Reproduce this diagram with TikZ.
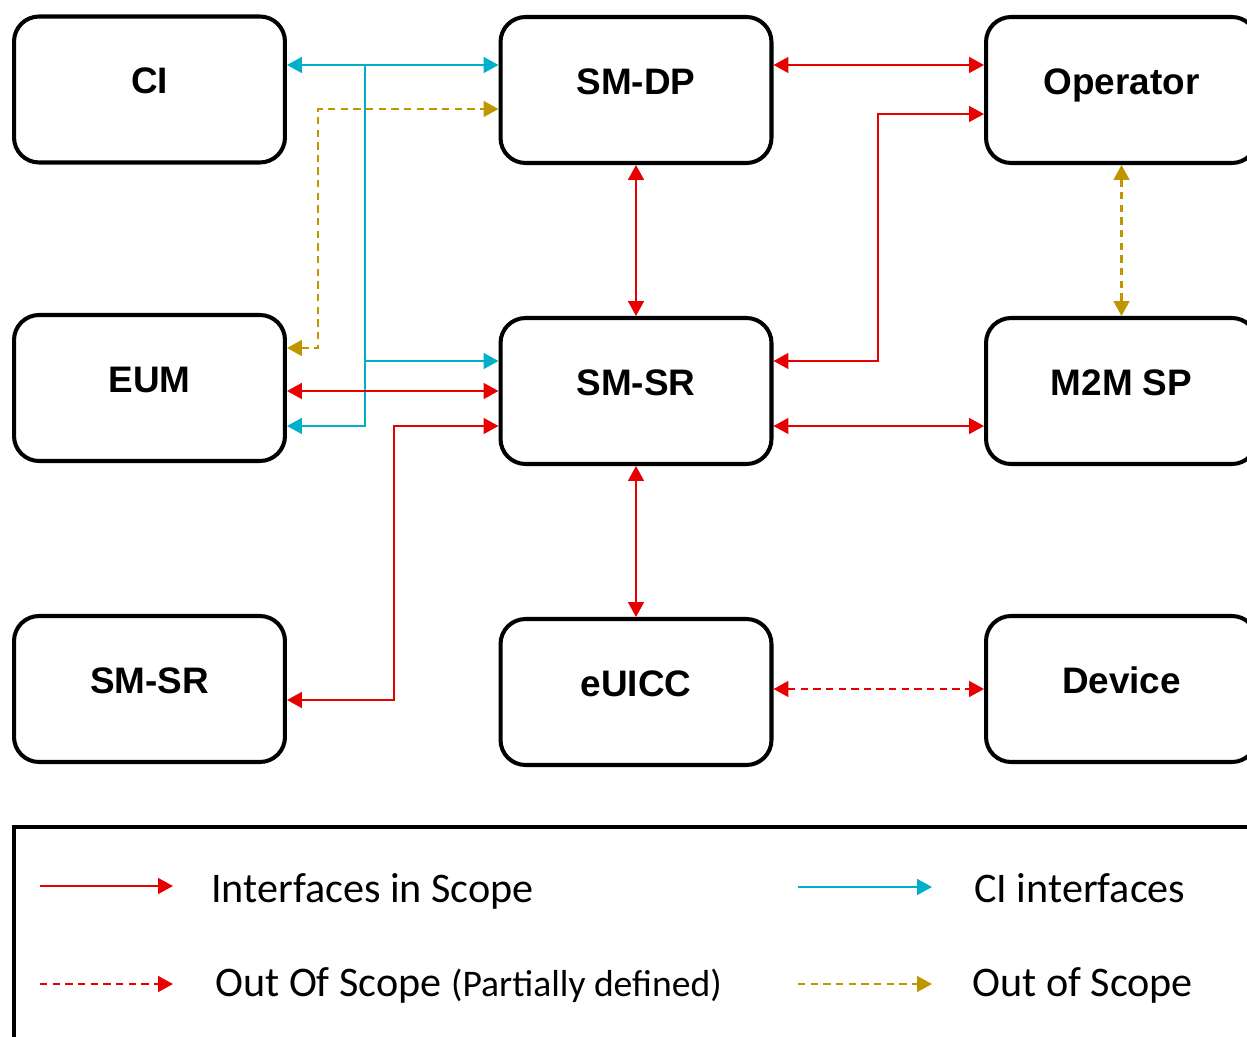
\documentclass[tikz,border=0pt]{standalone}
\usepackage{fontspec}
\setmainfont{Carlito}
\newfontfamily\boxfont{Liberation Sans}
\usetikzlibrary{arrows.meta}
\definecolor{scopered}{RGB}{232,0,0}
\definecolor{cicyan}{RGB}{0,176,202}
\definecolor{oosgold}{RGB}{191,150,0}

\begin{document}
\begin{tikzpicture}[x=0.02cm, y=-0.02cm, >={Triangle[length=8.5pt, width=9pt]}]
    \tikzset{entity/.style = {shape=rectangle, rounded corners=0.5cm, draw, line width=2.3pt, minimum width=5.42cm, minimum height=2.92cm, font=\boxfont\bfseries\fontsize{21}{25}\selectfont, text height=0.56cm, text depth=0.38cm}}
    \tikzset{ins/.style = {draw=scopered, line width=1.2pt}}
    \tikzset{pod/.style = {draw=scopered, line width=1.2pt, dash pattern=on 4.2pt off 3pt}}
    \tikzset{ci/.style = {draw=cicyan, line width=1.2pt}}
    \tikzset{oos/.style = {draw=oosgold, line width=1.2pt, dash pattern=on 4.2pt off 3pt}}
    \tikzset{legtext/.style = {anchor=base west, inner sep=0pt, font=\fontsize{24}{28}\selectfont}}

    \useasboundingbox (0,0) rectangle (1247,1037);

    % vertices
    \node[entity] (CI) at (149.5,89.5) {CI};
    \node[entity] (SMDP) at (636,90) {SM-DP};
    \node[entity] (Op) at (1121.5,90) {Operator};
    \node[entity] (EUM) at (149.5,388) {EUM};
    \node[entity] (SMSR) at (636,391) {SM-SR};
    \node[entity] (M2M) at (1121.5,391) {M2M SP};
    \node[entity] (SMSRb) at (149.5,689) {SM-SR};
    \node[entity] (eUICC) at (636,692) {eUICC};
    \node[entity] (Dev) at (1121.5,689) {Device};

    % bends
    \coordinate (cit) at (365,65);
    \coordinate (cim) at (365,361);
    \coordinate (cib) at (365,426);
    \coordinate (gb) at (318,348);
    \coordinate (gt) at (318,109);
    \coordinate (sb) at (394,700);
    \coordinate (st) at (394,426);
    \coordinate (ob) at (878,361);
    \coordinate (ot) at (878,114);

    % edges
    \draw [ci, <->] (CI.east |- cit) -- (SMDP.west |- cit);
    \draw [ci, ->] (cit) -- (cib) -- (EUM.east |- cib);
    \draw [ci, ->] (cim) -- (SMSR.west |- cim);
    \draw [oos, <->] (EUM.east |- gb) -- (gb) -- (gt) -- (SMDP.west |- gt);
    \draw [ins, <->] (EUM.east |- SMSR.west) -- (SMSR.west);
    \draw [ins, <->] (SMSRb.east |- sb) -- (sb) -- (st) -- (SMSR.west |- st);
    \draw [ins, <->] (SMDP) -- (SMSR);
    \draw [ins, <->] (SMDP.east |- cit) -- (Op.west |- cit);
    \draw [ins, <->] (SMSR.east |- ob) -- (ob) -- (ot) -- (Op.west |- ot);
    \draw [ins, <->] (SMSR.east |- st) -- (M2M.west |- st);
    \draw [oos, <->] (Op) -- (M2M);
    \draw [ins, <->] (SMSR) -- (eUICC);
    \draw [pod, <->] (eUICC.east |- Dev.west) -- (Dev.west);

    % legend
    \draw [line width=2.3pt] (14,1060) -- (14,827) -- (1262,827);
    \coordinate (la) at (40,886);   \coordinate (lb) at (173,886);
    \coordinate (lc) at (40,984);   \coordinate (ld) at (173,984);
    \coordinate (le) at (798,887);  \coordinate (lf) at (932,887);
    \coordinate (lg) at (798,984);  \coordinate (lh) at (932,984);
    \draw [ins, ->] (la) -- (lb);
    \draw [pod, ->] (lc) -- (ld);
    \draw [ci, ->] (le) -- (lf);
    \draw [oos, ->] (lg) -- (lh);
    \node[legtext] (t1) at (211,902) {Interfaces in Scope};
    \node[legtext] (t2) at (215,996) {Out Of Scope {\fontsize{21.4}{25}\selectfont(Partially defined)}};
    \node[legtext] (t3) at (974,902) {CI interfaces};
    \node[legtext] (t4) at (972,996) {Out of Scope};
\end{tikzpicture}
\end{document}
